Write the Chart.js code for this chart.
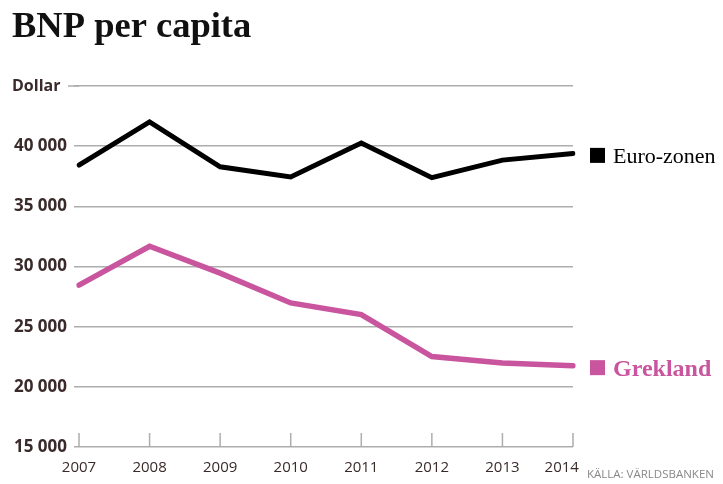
<!DOCTYPE html>
<html>
<head>
<meta charset="utf-8">
<script src="https://cdn.jsdelivr.net/npm/chart.js@4"></script>
<style>
html,body{margin:0;padding:0;background:#fff;}
#wrap{position:relative;width:723px;height:484px;}
</style>
</head>
<body>
<div id="wrap"><canvas id="c" width="723" height="484"></canvas></div>
<script>
const years = ['2007','2008','2009','2010','2011','2012','2013','2014'];
const euroZone = [38430, 42010, 38290, 37440, 40270, 37380, 38840, 39400];
const greece = [28450, 31680, 29450, 26970, 26010, 22520, 21980, 21760];
const yTicks = [15000, 20000, 25000, 30000, 35000, 40000, 45000];
const seriesNames = ['Euro-zonen', 'Grekland'];
const seriesColors = ['#000000', '#c8559d'];
const titleText = 'BNP per capita';
const unitText = 'Dollar';
const sourceText = 'KÄLLA: VÄRLDSBANKEN';

const labelColor = '#3a2a2a';
const gridColor = '#adadad';

function fmt(v){ return String(v).replace(/\B(?=(\d{3})+(?!\d))/g, ' '); }

const decor = {
  id: 'decor',
  afterDraw(chart){
    const ctx = chart.ctx;
    const x = chart.scales.x, y = chart.scales.y;
    ctx.save();
    // title
    ctx.fillStyle = '#111';
    ctx.font = 'bold 36.5px "Liberation Serif"';
    ctx.textAlign = 'left';
    ctx.textBaseline = 'alphabetic';
    ctx.fillText(titleText, 12, 37);
    // unit label
    const topY = y.getPixelForValue(yTicks[yTicks.length-1]);
    ctx.fillStyle = labelColor;
    ctx.font = 'bold 16px "Open Sans"';
    ctx.textBaseline = 'middle';
    ctx.fillText(unitText, 12, topY);
    ctx.strokeStyle = gridColor;
    ctx.lineWidth = 1.5;
    ctx.beginPath();
    ctx.moveTo(68, topY);
    ctx.lineTo(chart.chartArea.left, topY);
    ctx.stroke();
    // x tick marks upward from axis
    const bottom = y.getPixelForValue(yTicks[0]);
    years.forEach((yr, i) => {
      const px = x.getPixelForValue(i);
      ctx.beginPath();
      ctx.moveTo(px, bottom);
      ctx.lineTo(px, bottom - 14);
      ctx.stroke();
    });
    // legend labels at end of lines
    const ends = [euroZone[euroZone.length-1], greece[greece.length-1]];
    const fonts = ['22px "Liberation Serif"', 'bold 24px "Liberation Serif"'];
    ends.forEach((v, i) => {
      const py = y.getPixelForValue(v) + 2;
      ctx.fillStyle = seriesColors[i];
      ctx.fillRect(590, py - 7.5, 15, 15);
      ctx.font = fonts[i];
      ctx.textBaseline = 'alphabetic';
      ctx.fillText(seriesNames[i], 613, py + 8);
    });
    // source
    ctx.fillStyle = '#888888';
    ctx.font = '11.5px "Open Sans"';
    ctx.textAlign = 'left';
    ctx.fillText(sourceText, 587, 478);
    ctx.restore();
  }
};

new Chart(document.getElementById('c'), {
  type: 'line',
  data: {
    labels: years,
    datasets: [
      { label: seriesNames[0], data: euroZone, borderColor: seriesColors[0], borderWidth: 5,
        pointRadius: 0, tension: 0, borderJoinStyle: 'miter', borderCapStyle: 'round', fill: false },
      { label: seriesNames[1], data: greece, borderColor: seriesColors[1], borderWidth: 5.5,
        pointRadius: 0, tension: 0, borderJoinStyle: 'miter', borderCapStyle: 'round', fill: false }
    ]
  },
  options: {
    responsive: false,
    animation: false,
    devicePixelRatio: 1,
    layout: { padding: { top: 86, right: 150, bottom: 0, left: 0 } },
    plugins: { legend: { display: false }, tooltip: { enabled: false }, title: { display: false } },
    scales: {
      x: {
        offset: false,
        grid: { display: false, drawTicks: false, tickLength: 0 },
        border: { display: false },
        ticks: {
          color: labelColor, font: { family: 'Open Sans', size: 15 }, padding: 12, maxRotation: 0, autoSkip: false,
          callback: (v, i) => i === years.length - 1 ? years[i] + '\u2002\u2002\u2002' : years[i]
        },
        afterFit(s){ s.height = 37; }
      },
      y: {
        min: yTicks[0], max: yTicks[yTicks.length-1],
        afterBuildTicks(s){ s.ticks = yTicks.map(v => ({ value: v })); },
        grid: { color: gridColor, lineWidth: 1.5, drawTicks: true, tickLength: 5 },
        border: { display: false },
        ticks: {
          color: labelColor, font: { family: 'Open Sans', size: 17, weight: 'bold' }, padding: 7,
          callback: v => v === yTicks[yTicks.length-1] ? '' : fmt(v)
        },
        afterFit(s){ s.width = 79; }
      }
    }
  },
  plugins: [decor]
});
</script>
</body>
</html>
